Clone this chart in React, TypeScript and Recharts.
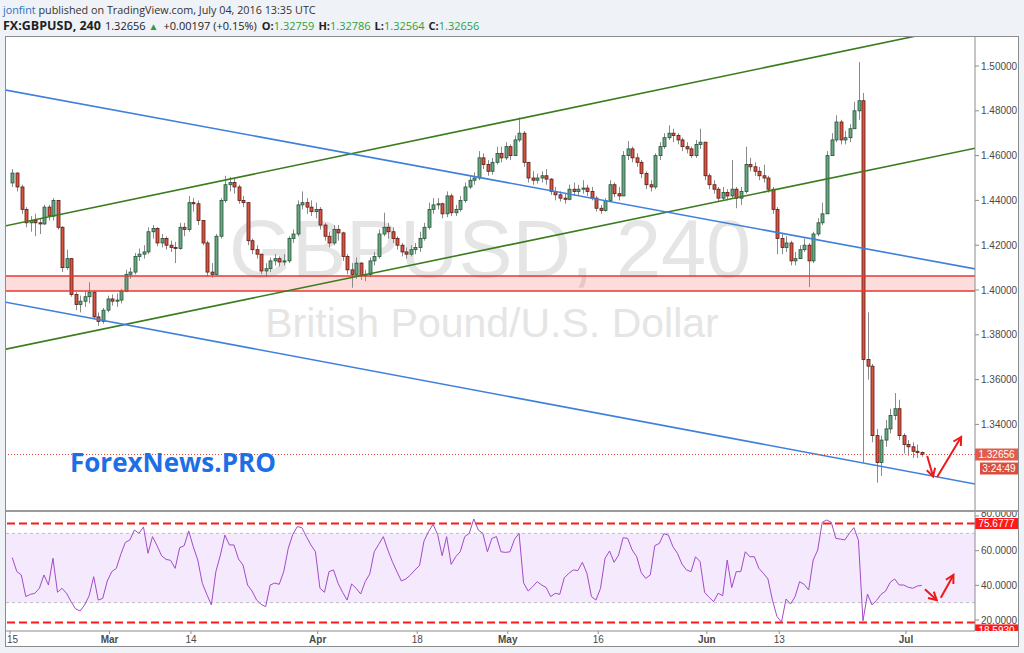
import React from "react";
import { ComposedChart, Bar, Line, XAxis, YAxis, ReferenceLine, ReferenceArea } from "recharts";

const firstOpen = 1.4478;

const closes = [
  1.4522, 1.446, 1.436, 1.43, 1.431, 1.43, 1.4295, 1.437, 1.433, 1.44,
  1.428, 1.41, 1.414, 1.398, 1.3935, 1.395, 1.397, 1.399, 1.388, 1.386,
  1.391, 1.396, 1.395, 1.3955, 1.3995, 1.407, 1.408, 1.415, 1.416, 1.417,
  1.426, 1.4275, 1.421, 1.423, 1.42, 1.419, 1.4185, 1.428, 1.427, 1.439,
  1.4385, 1.431, 1.421, 1.408, 1.407, 1.424, 1.44, 1.447, 1.448, 1.446,
  1.44, 1.439, 1.422, 1.418, 1.416, 1.4085, 1.4095, 1.413, 1.414, 1.4125,
  1.413, 1.423, 1.425, 1.438, 1.439, 1.437, 1.435, 1.436, 1.429, 1.424,
  1.421, 1.427, 1.4255, 1.415, 1.409, 1.407, 1.412, 1.4065, 1.407, 1.413,
  1.415, 1.425, 1.428, 1.426, 1.423, 1.42, 1.417, 1.416, 1.418, 1.419,
  1.423, 1.428, 1.436, 1.438, 1.4385, 1.434, 1.442, 1.4345, 1.436, 1.44,
  1.446, 1.449, 1.45, 1.459, 1.456, 1.453, 1.457, 1.461, 1.459, 1.464,
  1.46, 1.467, 1.47, 1.457, 1.45, 1.449, 1.45, 1.451, 1.4495, 1.444,
  1.4425, 1.441, 1.4405, 1.445, 1.444, 1.445, 1.4455, 1.444, 1.441, 1.4365,
  1.4355, 1.44, 1.447, 1.443, 1.442, 1.46, 1.463, 1.459, 1.457, 1.452,
  1.447, 1.446, 1.46, 1.464, 1.468, 1.47, 1.469, 1.467, 1.464, 1.463,
  1.46, 1.465, 1.466, 1.451, 1.447, 1.445, 1.441, 1.4435, 1.442, 1.445,
  1.441, 1.444, 1.456, 1.455, 1.453, 1.451, 1.45, 1.445, 1.436, 1.423,
  1.419, 1.421, 1.413, 1.414, 1.418, 1.42, 1.413, 1.425, 1.43, 1.434,
  1.46, 1.467, 1.475, 1.467, 1.468, 1.472, 1.48, 1.4845, 1.369, 1.366,
  1.335, 1.323, 1.333, 1.338, 1.344, 1.347, 1.335, 1.331, 1.33, 1.328,
  1.3275, 1.3266,
];

const highs = [
  1.454, 1.4525, 1.447, 1.437, 1.433, 1.434, 1.432, 1.438, 1.438, 1.441,
  1.44, 1.4285, 1.418, 1.414, 1.399, 1.3975, 1.3995, 1.4035, 1.4, 1.39,
  1.392, 1.3975, 1.398, 1.3985, 1.4005, 1.409, 1.41, 1.4165, 1.4185, 1.42,
  1.428, 1.429, 1.428, 1.425, 1.424, 1.422, 1.4215, 1.43, 1.43, 1.442,
  1.441, 1.44, 1.43, 1.422, 1.412, 1.425, 1.441, 1.451, 1.4505, 1.45,
  1.447, 1.442, 1.438, 1.423, 1.42, 1.416, 1.412, 1.4145, 1.416, 1.415,
  1.416, 1.424, 1.427, 1.44, 1.444, 1.441, 1.44, 1.439, 1.437, 1.43,
  1.426, 1.429, 1.429, 1.426, 1.416, 1.412, 1.4145, 1.4125, 1.409, 1.4145,
  1.417, 1.427, 1.4345, 1.43, 1.428, 1.424, 1.421, 1.419, 1.42, 1.421,
  1.426, 1.43, 1.439, 1.441, 1.441, 1.439, 1.444, 1.443, 1.438, 1.442,
  1.448, 1.451, 1.4525, 1.462, 1.461, 1.458, 1.459, 1.464, 1.464, 1.466,
  1.465, 1.469, 1.477, 1.471, 1.457, 1.453, 1.452, 1.453, 1.454, 1.45,
  1.446, 1.444, 1.443, 1.447, 1.448, 1.447, 1.449, 1.447, 1.446, 1.442,
  1.438, 1.441, 1.449, 1.448, 1.446, 1.462, 1.4665, 1.464, 1.461, 1.458,
  1.453, 1.449, 1.461, 1.466, 1.47, 1.4735, 1.472, 1.47, 1.468, 1.466,
  1.464, 1.467, 1.472, 1.466, 1.452, 1.449, 1.446, 1.446, 1.445, 1.458,
  1.446, 1.446, 1.464, 1.459, 1.457, 1.455, 1.456, 1.451, 1.446, 1.437,
  1.425, 1.424, 1.422, 1.417, 1.42, 1.423, 1.421, 1.426, 1.432, 1.439,
  1.462, 1.47, 1.478, 1.476, 1.471, 1.474, 1.484, 1.5018, 1.488, 1.39,
  1.367, 1.338, 1.335, 1.342, 1.347, 1.354, 1.351, 1.336, 1.333, 1.332,
  1.331, 1.3279,
];

const lows = [
  1.446, 1.444, 1.434, 1.428, 1.426, 1.424, 1.425, 1.429, 1.431, 1.431,
  1.427, 1.408, 1.409, 1.397, 1.391, 1.39, 1.3925, 1.394, 1.387, 1.384,
  1.385, 1.39, 1.393, 1.3925, 1.394, 1.399, 1.405, 1.407, 1.413, 1.414,
  1.416, 1.423, 1.4195, 1.419, 1.418, 1.417, 1.412, 1.418, 1.424, 1.426,
  1.435, 1.429, 1.42, 1.406, 1.4055, 1.4065, 1.423, 1.439, 1.444, 1.443,
  1.4385, 1.437, 1.42, 1.416, 1.414, 1.407, 1.406, 1.408, 1.411, 1.4105,
  1.411, 1.412, 1.421, 1.424, 1.436, 1.434, 1.433, 1.432, 1.427, 1.422,
  1.419, 1.42, 1.422, 1.413, 1.407, 1.401, 1.405, 1.4045, 1.404, 1.406,
  1.411, 1.414, 1.424, 1.423, 1.421, 1.418, 1.415, 1.414, 1.415, 1.416,
  1.417, 1.422, 1.427, 1.434, 1.436, 1.432, 1.4325, 1.433, 1.433, 1.435,
  1.439, 1.445, 1.447, 1.449, 1.454, 1.451, 1.4515, 1.456, 1.457, 1.458,
  1.458, 1.46, 1.466, 1.455, 1.448, 1.447, 1.4475, 1.448, 1.447, 1.4425,
  1.44, 1.4395, 1.4385, 1.44, 1.442, 1.442, 1.443, 1.442, 1.44, 1.435,
  1.434, 1.435, 1.4395, 1.4415, 1.44, 1.442, 1.458, 1.457, 1.455, 1.45,
  1.445, 1.444, 1.445, 1.458, 1.463, 1.467, 1.466, 1.465, 1.462, 1.461,
  1.459, 1.459, 1.463, 1.449, 1.445, 1.443, 1.4395, 1.44, 1.44, 1.441,
  1.4365, 1.438, 1.443, 1.453, 1.451, 1.449, 1.448, 1.4435, 1.434, 1.416,
  1.416, 1.417, 1.411, 1.411, 1.414, 1.417, 1.4013, 1.412, 1.424, 1.429,
  1.434, 1.46, 1.466, 1.465, 1.465, 1.466, 1.472, 1.476, 1.3229, 1.36,
  1.332, 1.314, 1.317, 1.33, 1.336, 1.342, 1.333, 1.327, 1.326, 1.325,
  1.325, 1.3256,
];

const rsiValues = [
  56, 48, 46, 33.5, 34.8, 35.4, 38.3, 46, 40.2, 55.6,
  36, 38.3, 35.4, 30.6, 26.4, 25.2, 28.7, 34, 45, 31.5,
  32.5, 42.5, 47.9, 49.8, 58, 64.8, 66.2, 71.9, 70, 73.7,
  58.5, 68.1, 62.9, 57.1, 55, 54.4, 49.8, 61.7, 62.9, 71.4,
  62.3, 54.6, 41.2, 34.8, 28.7, 47.9, 57.5, 69, 63.3, 63.3,
  55.2, 51.7, 40.2, 36.7, 31.5, 29, 27.7, 40.2, 41.3, 40.6,
  47.9, 61.4, 69.4, 73.9, 73.3, 68.1, 63.3, 59.4, 38.3, 36,
  47.9, 48.9, 41.2, 36, 31.5, 40.8, 38.3, 35, 42.1, 46.5,
  59.4, 63.7, 68.1, 60.4, 53.7, 47.9, 42.5, 43.7, 46, 48.9,
  51.4, 65.6, 71, 75.2, 69.4, 57.1, 68.1, 52.1, 56.5, 59.4,
  68.1, 70, 78.3, 71.9, 70, 59.4, 67.1, 68.1, 59.4, 59,
  59.4, 66.6, 70, 41.5, 36.7, 39.2, 42.1, 40.2, 38.7, 33.5,
  35.4, 34.8, 44.4, 46.9, 48.9, 48.5, 53.3, 46.9, 33.5, 31.5,
  38.3, 55.6, 59.8, 53.3, 57.5, 67.5, 67.1, 60.4, 56.5, 47.3,
  44, 46, 62.9, 64.2, 69.8, 69, 62.3, 58.5, 52.3, 48.9,
  47.9, 56.5, 53.7, 36, 33.1, 30.6, 35.4, 34, 54.6, 38.7,
  47.9, 47.9, 59.4, 56.5, 56.5, 49.8, 46.9, 43.7, 31.5, 22,
  18.8, 32.1, 29.2, 33.5, 42.1, 40.6, 37.3, 54.6, 60.4, 76.4,
  77.7, 76.4, 67.1, 66.7, 66.2, 70, 73.3, 66, 19.5, 35,
  28.7, 31.3, 34.8, 36.7, 41.7, 43.7, 40.2, 40.2, 38.9, 38.3,
  39.6, 40,
];

const dateTicks = [-0.5, 21.5, 39.5, 67.5, 89.5, 109.5, 129.5, 153.5, 169.5, 197.5];
const dateLabels = ["15", "Mar", "14", "Apr", "18", "May", "16", "Jun", "13", "Jul"];
const priceTicks = [1.34, 1.36, 1.38, 1.4, 1.42, 1.44, 1.46, 1.48, 1.5];
const rsiTicks = [20, 40, 60, 80];

// drawings on the chart, in (candle index, price)
const greenChannel = [
  [{ x: -1.6, y: 1.4286 }, { x: 212.8, y: 1.5189 }],
  [{ x: -1.6, y: 1.3735 }, { x: 212.8, y: 1.4633 }],
];
const blueChannel = [
  [{ x: -1.6, y: 1.4893 }, { x: 212.8, y: 1.4094 }],
  [{ x: -1.6, y: 1.3946 }, { x: 212.8, y: 1.3134 }],
];
const supportZone = [1.3996, 1.4062];
const lastPrice = 1.32656;
const priceArrows = [
  [{ x: 202.2, y: 1.3259 }, { x: 203.5, y: 1.3167 }],
  [{ x: 204.4, y: 1.3165 }, { x: 209.7, y: 1.3344 }],
];
const rsiBand = [30, 70];
const rsiLevels = [75.6777, 18.593];
const rsiArrows = [
  [{ x: 201.7, y: 37.7 }, { x: 204.3, y: 31.5 }],
  [{ x: 205.2, y: 32.9 }, { x: 208.0, y: 46.0 }],
];

const X_DOMAIN: [number, number] = [-1.38, 212.76];
const AXIS_FONT = "'Liberation Sans', Arial, sans-serif";
const GREEN_TXT = "#2f9e3a";

const candles = closes.map((close, i) => {
  const open = i === 0 ? firstOpen : closes[i - 1];
  return {
    k: i,
    open,
    close,
    high: highs[i],
    low: lows[i],
    range: [Math.min(lows[i], open, close), Math.max(highs[i], open, close)],
    rsi: rsiValues[i],
  };
});

function Candle(props: any) {
  const { x, y, width, height, payload } = props;
  if (x == null || payload == null) return null;
  const top = Math.min(y, y + height);
  const h = Math.abs(height);
  const hi = payload.range[1];
  const lo = payload.range[0];
  const per = hi === lo ? 0 : h / (hi - lo);
  const py = (p: number) => top + (hi - p) * per;
  const up = payload.close >= payload.open;
  const cx = Math.round(x + width / 2);
  const bTop = py(Math.max(payload.open, payload.close));
  const bBot = py(Math.min(payload.open, payload.close));
  return (
    <g>
      <line x1={cx + 0.5} x2={cx + 0.5} y1={top} y2={top + h} stroke="#8a8a8c" strokeWidth={1} />
      <rect
        x={cx - 1}
        y={bTop}
        width={3}
        height={Math.max(1, bBot - bTop)}
        fill={up ? "#6ba583" : "#d75442"}
        stroke={up ? "#225437" : "#5b1a13"}
        strokeWidth={0.8}
      />
    </g>
  );
}

function ArrowShape(props: any) {
  const { x1, y1, x2, y2 } = props;
  if (x1 == null) return null;
  const ang = Math.atan2(y2 - y1, x2 - x1);
  const len = 9;
  const a1x = x2 - len * Math.cos(ang - 0.5);
  const a1y = y2 - len * Math.sin(ang - 0.5);
  const a2x = x2 - len * Math.cos(ang + 0.5);
  const a2y = y2 - len * Math.sin(ang + 0.5);
  return (
    <g>
      <line x1={x1} y1={y1} x2={x2} y2={y2} stroke="#f01818" strokeWidth={2} />
      <polyline points={`${a1x},${a1y} ${x2},${y2} ${a2x},${a2y}`} fill="none" stroke="#f01818" strokeWidth={2} />
    </g>
  );
}

function AxisTag(props: any) {
  const { viewBox, text, fill, offsetY = 0, height = 12, left = 0 } = props;
  if (!viewBox) return null;
  const x = viewBox.x + viewBox.width + left;
  const y = viewBox.y + offsetY;
  return (
    <g>
      <rect x={x} y={y - height / 2} width={43 - left} height={height} fill={fill} />
      <text x={x + (43 - left) / 2} y={y + 3.5} textAnchor="middle" fill="#fff" fontSize={10} fontFamily={AXIS_FONT}>
        {text}
      </text>
    </g>
  );
}

function LastPriceTags(props: any) {
  return (
    <g>
      <AxisTag viewBox={props.viewBox} text="1.32656" fill="#e35b4b" />
      <AxisTag viewBox={props.viewBox} text="3:24:49" fill="#d94f3f" offsetY={14} left={5} />
    </g>
  );
}

function RsiTopTag(props: any) {
  return <AxisTag viewBox={props.viewBox} text="75.6777" fill="#ff1a1a" height={11} />;
}

function RsiBottomTag(props: any) {
  const vb = props.viewBox;
  if (!vb) return null;
  return (
    <g>
      <defs>
        <clipPath id="rsiBottomClip">
          <rect x={0} y={0} width={1012} height={119} />
        </clipPath>
      </defs>
      <g clipPath="url(#rsiBottomClip)">
        <AxisTag viewBox={vb} text="18.5930" fill="#ff1a1a" offsetY={8} />
      </g>
    </g>
  );
}

function RsiTick(props: any) {
  const { x, y, payload } = props;
  // the top label sits at the pane edge and is cut there, as in the source
  const shift = payload.value === 80 ? -3 : 0;
  return (
    <text x={x} y={y + shift} dy="0.355em" textAnchor="start" fontSize={10} fill="#4a4a4a" fontFamily={AXIS_FONT}>
      {Number(payload.value).toFixed(4)}
    </text>
  );
}

function DateTick(props: any) {
  const { x, y, payload } = props;
  const i = dateTicks.indexOf(payload.value);
  const label = dateLabels[i] ?? "";
  const isMonth = /[A-Za-z]/.test(label);
  const nearEdge = x < 8;
  return (
    <text
      x={nearEdge ? 1 : x}
      y={y}
      dy="0.71em"
      textAnchor={nearEdge ? "start" : "middle"}
      fontSize={10}
      fontWeight={isMonth ? "bold" : "normal"}
      fill="#4a4a4a"
      fontFamily={AXIS_FONT}
    >
      {label}
    </text>
  );
}

export default function App() {
  return (
    <div style={{ position: "absolute", left: 0, top: 0, width: 1024, height: 653, background: "#eff2f6", overflow: "hidden", fontFamily: "'Open Sans', sans-serif" }}>
      <div style={{ position: "absolute", left: 3, top: 3, fontSize: 10.8, lineHeight: "14px", color: "#333", whiteSpace: "nowrap" }}>
        <span style={{ color: "#2d6fc2" }}>jonfint</span> published on TradingView.com, July 04, 2016 13:35 UTC
      </div>
      <div style={{ position: "absolute", left: 3, top: 18, fontSize: 11, lineHeight: "15px", color: "#222", whiteSpace: "nowrap" }}>
        <b style={{ fontSize: 12.5 }}>FX:GBPUSD, 240</b>
        <span style={{ marginLeft: 4 }}>1.32656</span>
        <span style={{ color: GREEN_TXT, marginLeft: 3, fontSize: 10 }}>▲</span>
        <span style={{ marginLeft: 5 }}>+0.00197 (+0.15%)</span>
        <span style={{ marginLeft: 5 }}><b>O:</b><span style={{ color: GREEN_TXT }}>1.32759</span></span>
        <span style={{ marginLeft: 4 }}><b>H:</b><span style={{ color: GREEN_TXT }}>1.32786</span></span>
        <span style={{ marginLeft: 4 }}><b>L:</b><span style={{ color: GREEN_TXT }}>1.32564</span></span>
        <span style={{ marginLeft: 4 }}><b>C:</b><span style={{ color: GREEN_TXT }}>1.32656</span></span>
      </div>

      <div style={{ position: "absolute", left: 5, top: 36, width: 1014, height: 611, boxSizing: "border-box", border: "1px solid #8c8c8c", background: "#fff" }} />

      <svg style={{ position: "absolute", left: 6, top: 37 }} width={969} height={473}>
        <text x={484} y={240} textAnchor="middle" fontSize={81} fill="#e5e5e5" fontFamily={AXIS_FONT}>
          GBPUSD, 240
        </text>
        <text x={486} y={300} textAnchor="middle" fontSize={41} fill="#e5e5e5" fontFamily={AXIS_FONT}>
          British Pound/U.S. Dollar
        </text>
      </svg>

      <div style={{ position: "absolute", left: 6, top: 37 }}>
        <ComposedChart width={1012} height={473} data={candles} margin={{ top: 0, right: 0, bottom: 0, left: 0 }}>
          <XAxis type="number" dataKey="k" domain={X_DOMAIN} allowDataOverflow hide />
          <YAxis
            orientation="right"
            width={43}
            domain={[1.301786, 1.51295]}
            allowDataOverflow
            ticks={priceTicks}
            interval={0}
            tickFormatter={(v: number) => v.toFixed(5)}
            tick={{ fontSize: 10, fill: "#4a4a4a", fontFamily: AXIS_FONT }}
            tickSize={4}
            tickLine={{ stroke: "#8c8c8c" }}
            axisLine={{ stroke: "#8c8c8c" }}
          />
          <ReferenceArea y1={supportZone[0]} y2={supportZone[1]} fill="#f44336" fillOpacity={0.18} stroke="none" ifOverflow="hidden" />
          <ReferenceLine y={supportZone[0]} stroke="#e53935" strokeWidth={1.5} />
          <ReferenceLine y={supportZone[1]} stroke="#e53935" strokeWidth={1.5} />
          {greenChannel.map((seg, i) => (
            <ReferenceLine key={`g${i}`} segment={seg} stroke="#3b7c1e" strokeWidth={1.6} ifOverflow="hidden" />
          ))}
          {blueChannel.map((seg, i) => (
            <ReferenceLine key={`b${i}`} segment={seg} stroke="#3f80dc" strokeWidth={1.6} ifOverflow="hidden" />
          ))}
          <ReferenceLine y={lastPrice} stroke="#e0483a" strokeDasharray="1 2" label={<LastPriceTags />} />
          <Bar dataKey="range" barSize={3} shape={<Candle />} isAnimationActive={false} />
          {priceArrows.map((seg, i) => (
            <ReferenceLine key={`pa${i}`} segment={seg} ifOverflow="visible" shape={(p: any) => <ArrowShape {...p} />} />
          ))}
        </ComposedChart>
      </div>

      <svg style={{ position: "absolute", left: 60, top: 444 }} width={260} height={40}>
        <text x={10} y={28} fontSize={26} fontWeight="bold" fill="#1d6fe6" fontFamily="'Open Sans', sans-serif">
          ForexNews.PRO
        </text>
      </svg>

      <div style={{ position: "absolute", left: 6, top: 510, width: 1012, height: 2, background: "#9a9a9a" }} />

      <div style={{ position: "absolute", left: 6, top: 512, width: 1012, height: 133, overflow: "hidden" }}>
        <ComposedChart width={1012} height={133} data={candles} margin={{ top: 0, right: 0, bottom: 0, left: 0 }}>
          <XAxis
            type="number"
            dataKey="k"
            domain={X_DOMAIN}
            allowDataOverflow
            ticks={dateTicks}
            interval={0}
            tick={<DateTick />}
            tickSize={3}
            tickLine={{ stroke: "#8c8c8c" }}
            axisLine={{ stroke: "#8c8c8c" }}
            height={14}
          />
          <YAxis
            orientation="right"
            width={43}
            domain={[13.65, 82.32]}
            allowDataOverflow
            ticks={rsiTicks}
            interval={0}
            tick={<RsiTick />}
            tickSize={4}
            tickLine={{ stroke: "#8c8c8c" }}
            axisLine={{ stroke: "#8c8c8c" }}
          />
          <ReferenceArea y1={rsiBand[0]} y2={rsiBand[1]} fill="#9c27f0" fillOpacity={0.1} stroke="none" />
          <ReferenceLine y={rsiBand[0]} stroke="#bdbdbd" strokeDasharray="3 3" />
          <ReferenceLine y={rsiBand[1]} stroke="#bdbdbd" strokeDasharray="3 3" />
          <ReferenceLine y={rsiLevels[0]} stroke="#ff1a1a" strokeWidth={2} strokeDasharray="8 4" label={<RsiTopTag />} />
          <ReferenceLine y={rsiLevels[1]} stroke="#ff1a1a" strokeWidth={2} strokeDasharray="8 4" label={<RsiBottomTag />} />
          <Line type="linear" dataKey="rsi" stroke="#a14cc9" strokeWidth={1} dot={false} isAnimationActive={false} />
          {rsiArrows.map((seg, i) => (
            <ReferenceLine key={`ra${i}`} segment={seg} ifOverflow="visible" shape={(p: any) => <ArrowShape {...p} />} />
          ))}
        </ComposedChart>
      </div>
    </div>
  );
}
